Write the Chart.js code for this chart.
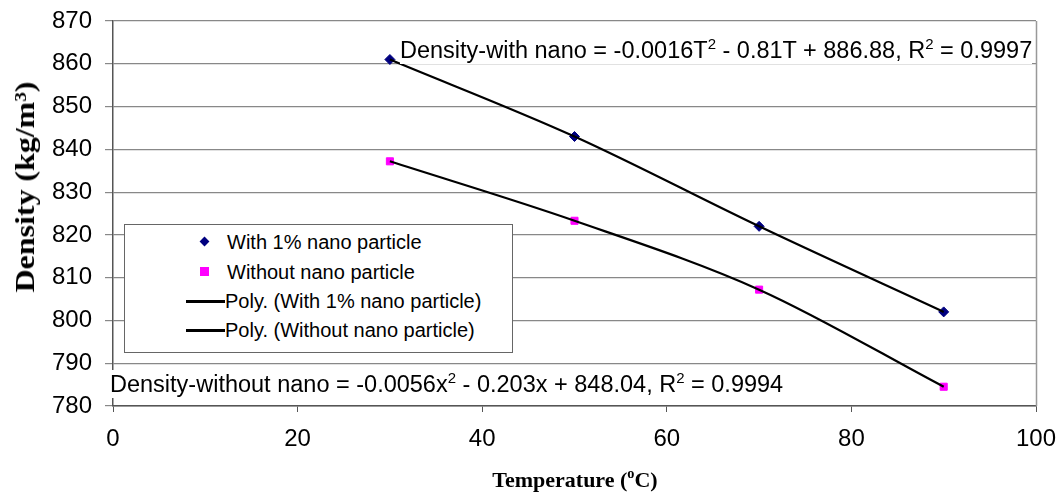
<!DOCTYPE html>
<html>
<head>
<meta charset="utf-8">
<script src="https://cdn.jsdelivr.net/npm/chart.js@4.4.0/dist/chart.umd.min.js"></script>
<style>
  html, body { margin: 0; padding: 0; background: #fff; }
  #wrap { position: relative; width: 1063px; height: 494px; overflow: hidden; }
  canvas { position: absolute; left: 0; top: 0; }
  .eq { position: absolute; font-family: "Liberation Sans", Arial, sans-serif; font-size: 23.5px; color: #000; background: #fff; white-space: nowrap; line-height: 28px; }
  .eq sup { font-size: 15px; line-height: 0; vertical-align: 9px; }
  .ttl { position: absolute; font-family: "Liberation Serif", "Times New Roman", serif; font-weight: bold; color: #000; white-space: nowrap; line-height: 1; }
  .ttl sup { font-size: 0.6em; line-height: 0; vertical-align: 0.5em; }
  #ytitle { left: 25px; top: 187px; font-size: 28px; transform: translate(-50%, -50%) rotate(-90deg) scaleX(1.14); }
  #xtitle { left: 575px; top: 480px; font-size: 22px; transform: translate(-50%, -50%); }
  #xtitle sup { font-size: 0.65em; vertical-align: 0.6em; }
  #legend { position: absolute; left: 124px; top: 224px; width: 387px; height: 127px; border: 1px solid #666; background: #fff; font-family: "Liberation Sans", Arial, sans-serif; font-size: 20px; }
  .li { position: absolute; left: 0; width: 385px; height: 24px; line-height: 24px; white-space: nowrap; }
  .li .txt { position: absolute; left: 102px; top: 0; }
  .li .txt.p { left: 100px; }
  .li .ln { position: absolute; left: 61px; top: 11px; width: 39px; height: 2.5px; background: #000; }
  .dia { position: absolute; left: 76px; top: 8px; width: 7px; height: 7px; background: #000080; transform: rotate(45deg); }
  .sq { position: absolute; left: 75px; top: 7px; width: 9px; height: 9px; background: #ff00ff; }
</style>
</head>
<body>
<div id="wrap">
  <canvas id="c" width="1063" height="494"></canvas>
  <div class="eq" id="eq1" style="left:400px; top:36px;">Density-with nano = -0.0016T<sup>2</sup> - 0.81T + 886.88, R<sup>2</sup> = 0.9997</div>
  <div class="eq" id="eq2" style="left:110px; top:370px;">Density-without nano = -0.0056x<sup>2</sup> - 0.203x + 848.04, R<sup>2</sup> = 0.9994</div>
  <div id="legend"></div>
  <div class="ttl" id="ytitle">Density (kg/m<sup>3</sup>)</div>
  <div class="ttl" id="xtitle">Temperature (<sup>o</sup>C)</div>
</div>
<script>
// ---- data ----
const temperatures = [30, 50, 70, 90];
const densityWithNano = [861, 843, 822, 802];
const densityWithoutNano = [837.2, 823.3, 807.2, 784.5];
const seriesNames = ["With 1% nano particle", "Without nano particle"];
const trendNames = ["Poly. (With 1% nano particle)", "Poly. (Without nano particle)"];
const xTickValues = [0, 20, 40, 60, 80, 100];
const yTickValues = [780, 790, 800, 810, 820, 830, 840, 850, 860, 870];

const pts = (xs, ys) => xs.map((x, i) => ({ x: x, y: ys[i] }));

const frame = {
  id: 'frame',
  afterDraw(chart) {
    const { ctx, chartArea: a } = chart;
    ctx.save();
    ctx.strokeStyle = '#999';
    ctx.lineWidth = 1.5;
    ctx.beginPath();
    ctx.moveTo(a.right + 0.5, a.top);
    ctx.lineTo(a.right + 0.5, a.bottom);
    ctx.stroke();
    ctx.restore();
  }
};

new Chart(document.getElementById('c'), {
  type: 'scatter',
  data: {
    datasets: [
      { label: trendNames[0], data: pts(temperatures, densityWithNano), showLine: true,
        cubicInterpolationMode: 'monotone',
        borderColor: '#000', borderWidth: 2.2, pointRadius: 0, order: 1 },
      { label: trendNames[1], data: pts(temperatures, densityWithoutNano), showLine: true,
        cubicInterpolationMode: 'monotone',
        borderColor: '#000', borderWidth: 2.2, pointRadius: 0, order: 1 },
      { label: seriesNames[0], data: pts(temperatures, densityWithNano), pointStyle: 'rectRot',
        pointRadius: 5, backgroundColor: '#000080', borderColor: '#000080', order: 2 },
      { label: seriesNames[1], data: pts(temperatures, densityWithoutNano), pointStyle: 'rect',
        pointRadius: 5, backgroundColor: '#ff00ff', borderColor: '#ff00ff', order: 2 }
    ]
  },
  options: {
    responsive: false,
    animation: false,
    layout: { padding: { top: 21, right: 27, left: 0, bottom: 0 } },
    plugins: { legend: { display: false }, tooltip: { enabled: false } },
    scales: {
      x: {
        type: 'linear', min: 0, max: 100,
        afterBuildTicks: s => { s.ticks = xTickValues.map(v => ({ value: v })); },
        ticks: { color: '#000', font: { family: 'Liberation Sans', size: 24 }, padding: 13, maxRotation: 0 },
        grid: { drawOnChartArea: false, color: '#555', tickLength: 6 },
        border: { color: '#555', width: 1.5 },
        afterFit: s => { s.height = 88; s.paddingLeft = 0; s.paddingRight = 0; }
      },
      y: {
        type: 'linear', min: 780, max: 870,
        afterBuildTicks: s => { s.ticks = yTickValues.map(v => ({ value: v })); },
        ticks: { color: '#000', font: { family: 'Liberation Sans', size: 24 }, padding: 13 },
        grid: { color: '#888', lineWidth: 1.2, tickLength: 8 },
        border: { color: '#555', width: 1.5 },
        afterFit: s => { s.width = 113; s.paddingTop = 0; s.paddingBottom = 0; }
      }
    }
  },
  plugins: [frame]
});

// legend (HTML)
const lg = document.getElementById('legend');
const rows = [
  { name: seriesNames[0], kind: 'dia' },
  { name: seriesNames[1], kind: 'sq' },
  { name: trendNames[0], kind: 'ln' },
  { name: trendNames[1], kind: 'ln' }
];
const rowTops = [5, 35, 64, 93];
rows.forEach((r, i) => {
  const d = document.createElement('div');
  d.className = 'li';
  d.style.top = rowTops[i] + 'px';
  const m = document.createElement('div');
  m.className = r.kind;
  d.appendChild(m);
  const t = document.createElement('span');
  t.className = 'txt' + (r.kind === 'ln' ? ' p' : '');
  t.textContent = r.name;
  d.appendChild(t);
  lg.appendChild(d);
});
</script>
</body>
</html>
